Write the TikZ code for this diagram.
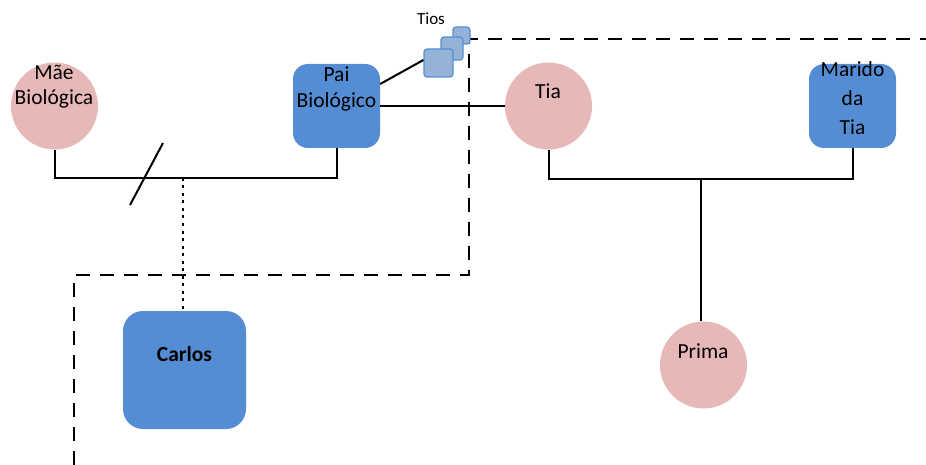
\documentclass[tikz,border=0pt]{standalone}
\usepackage{fontspec}
\setmainfont{Carlito}
\begin{document}
\begin{tikzpicture}[x=1pt,y=-1pt,
  circ/.style={circle,fill=pinkc,draw=none,minimum size=87pt,inner sep=0pt},
  box/.style={rectangle,rounded corners=15pt,fill=bluec,draw=none,minimum width=87pt,minimum height=84pt,inner sep=0pt},
  tio/.style={rectangle,rounded corners=3pt,fill=tiofill,draw=tiodraw,line width=1.2pt,inner sep=0pt},
  txt/.style={inner sep=0pt,align=center,font=\fontsize{21.5}{26}\selectfont},
  link/.style={line width=2pt,black},
  dashline/.style={line width=2.5pt,dash pattern=on 14pt off 10pt},
  dotline/.style={line width=2.3pt,dash pattern=on 3pt off 4.5pt}
]
\definecolor{pinkc}{HTML}{E6B8B7}
\definecolor{bluec}{HTML}{548DD4}
\definecolor{tiofill}{HTML}{95B3D7}
\definecolor{tiodraw}{HTML}{558ED5}
\useasboundingbox (0,0) rectangle (926,465);

% dashed boundary
\coordinate (d1) at (74,465);
\coordinate (d2) at (74,275);
\coordinate (d3) at (469,275);
\coordinate (d4) at (469,39);
\coordinate (d5) at (926,39);
\draw[dashline] (d1) -- (d2) -- (d3) -- (d4) -- (d5);

% shapes
\node[circ] (mae) at (54.5,106) {};
\node[box] (pai) at (336.5,106) {};
\node[circ] (tia) at (548.5,106) {};
\node[box] (marido) at (852.5,106) {};
\node[circ] (prima) at (703.5,365) {};
\node[box,minimum width=123pt,minimum height=118pt,rounded corners=20pt] (carlos) at (184.5,370) {};

% Tios icon
\node[tio,minimum width=17pt,minimum height=17pt] (tio3) at (461.5,35.5) {};
\node[tio,minimum width=22pt,minimum height=23pt] (tio2) at (452,48.5) {};
\node[tio,minimum width=29pt,minimum height=28pt] (tio1) at (438.5,63) {};

% texts
\node[txt] (tmae) at (54,87) {Mãe\\[-1pt]Biológica};
\node[txt] (tpai) at (336.5,89) {Pai\\Biológico};
\node[txt] (ttia) at (548,91) {Tia};
\node[txt,font=\fontsize{21.5}{29}\selectfont] (tmarido) at (852.5,98) {Marido\\da\\Tia};
\node[txt] (tprima) at (703,351) {Prima};
\node[txt,font=\fontsize{21.5}{26}\selectfont\bfseries] (tcarlos) at (184.5,354) {Carlos};
\node[txt,font=\fontsize{17}{20}\selectfont] (ttios) at (431,19) {Tios};

% union coordinates
\coordinate (u1) at (183,178);
\coordinate (u2) at (701,179);
\coordinate (s1) at (130,205);
\coordinate (s2) at (163,143);

% connectors
\draw[link] (mae.south) -- (mae.south |- u1) -- (pai.south |- u1) -- (pai.south);
\draw[link] (s1) -- (s2);
\draw[dotline] (u1) -- (carlos.north -| u1);
\draw[link] (pai.east |- tia.west) -- (tia.west);
\draw[link] (pai.east |- 0,84) -- (tio1.west |- 0,60);
\draw[link] (tia.south) -- (tia.south |- u2) -- (marido.south |- u2) -- (marido.south);
\draw[link] (u2) -- (prima.north -| u2);
\end{tikzpicture}
\end{document}
